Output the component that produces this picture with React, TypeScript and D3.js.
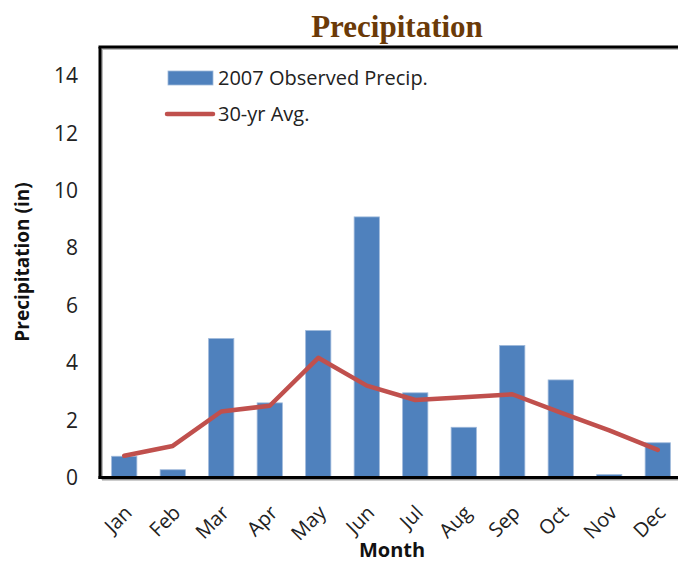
import React from "react";
import * as d3 from "d3";

const months = ["Jan", "Feb", "Mar", "Apr", "May", "Jun", "Jul", "Aug", "Sep", "Oct", "Nov", "Dec"];
const observed2007 = [0.74, 0.27, 4.84, 2.6, 5.12, 9.08, 2.95, 1.75, 4.6, 3.4, 0.1, 1.21];
const avg30yr = [0.76, 1.1, 2.3, 2.5, 4.17, 3.2, 2.7, 2.8, 2.9, 2.26, 1.64, 0.96];
const yTicks = [0, 2, 4, 6, 8, 10, 12, 14];

const W = 678;
const H = 564;
const left = 100;
const right = 682;
const top = 47;
const bottom = 477.5;

const sans = "'Open Sans', 'Noto Sans', sans-serif";

export default function App() {
  const x = d3.scaleBand<string>().domain(months).range([left, right]).paddingInner(0.48).paddingOuter(0.24);
  const y = d3.scaleLinear().domain([0, 15]).range([bottom, top]);
  const cx = (m: string) => (x(m) as number) + x.bandwidth() / 2;
  const line = d3
    .line<number>()
    .x((_, i) => cx(months[i]))
    .y((d) => y(d));

  return (
    <div style={{ position: "fixed", left: 0, top: 0, width: W, height: H, background: "#fff" }}>
      <svg width={W} height={H} style={{ display: "block" }}>
        <text x={397} y={37} textAnchor="middle" fontFamily="'Liberation Serif', 'Times New Roman', serif" fontWeight="bold" fontSize={31} fill="#6B3A07">
          Precipitation
        </text>
        {observed2007.map((v, i) => (
          <rect
            key={months[i]}
            x={x(months[i])}
            y={y(v)}
            width={x.bandwidth()}
            height={y(0) - y(v)}
            fill="#4F81BD"
            stroke="#9DB8DA"
            strokeWidth={0.8}
          />
        ))}
        <path d={line(avg30yr) || ""} fill="none" stroke="#C0504D" strokeWidth={4.5} strokeLinejoin="round" strokeLinecap="round" />
        {/* frame with shadow */}
        <g>
          <line x1={left + 2} x2={W} y1={top + 2} y2={top + 2} stroke="#bbb" strokeWidth={2} />
          <line x1={left + 2} x2={left + 2} y1={top + 2} y2={bottom + 2} stroke="#bbb" strokeWidth={2} />
          <line x1={left + 2} x2={W} y1={bottom + 2} y2={bottom + 2} stroke="#999" strokeWidth={2} />
          <line x1={left - 1.5} x2={W} y1={top} y2={top} stroke="#000" strokeWidth={3} />
          <line x1={left} x2={left} y1={top} y2={bottom + 1.5} stroke="#000" strokeWidth={3} />
          <line x1={left - 1.5} x2={W} y1={bottom} y2={bottom} stroke="#000" strokeWidth={3} />
        </g>
        {yTicks.map((t) => (
          <text key={t} x={78} y={y(t)} dy="0.36em" textAnchor="end" fontFamily={sans} fontSize={21} fill="#222">
            {t}
          </text>
        ))}
        {months.map((m) => (
          <text
            key={m}
            transform={`translate(${cx(m) + 9},${514}) rotate(-45)`}
            textAnchor="end"
            fontFamily={sans}
            fontSize={20}
            fill="#222"
          >
            {m}
          </text>
        ))}
        <text transform={`translate(29,262) rotate(-90)`} textAnchor="middle" fontFamily={sans} fontWeight="bold" fontSize={19} fill="#111">
          Precipitation (in)
        </text>
        <text x={392} y={557} textAnchor="middle" fontFamily={sans} fontWeight="bold" fontSize={20} fill="#111">
          Month
        </text>
        {/* legend */}
        <rect x={168} y={71} width={45} height={14} fill="#4F81BD" stroke="#9DB8DA" strokeWidth={0.8} />
        <text x={218} y={85} fontFamily={sans} fontSize={20} fill="#222">
          2007 Observed Precip.
        </text>
        <line x1={167} x2={213} y1={114} y2={114} stroke="#C0504D" strokeWidth={4.5} strokeLinecap="round" />
        <text x={218} y={121} fontFamily={sans} fontSize={20} fill="#222">
          30-yr Avg.
        </text>
      </svg>
    </div>
  );
}
